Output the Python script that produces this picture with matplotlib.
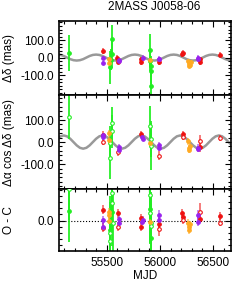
import matplotlib.pyplot as plt
import numpy as np
from matplotlib.ticker import MultipleLocator, FixedLocator

plt.rcParams['font.family'] = ['Liberation Sans', 'DejaVu Sans']
plt.rcParams['font.size'] = 8.5

# parallax model curve (one sample per ~30 d)
curve_mjd = np.linspace(55034, 56677, 55)
dec_curve = [17, 15, 9, 0, -9, -15, -17, -15, -9, 0, 9, 15,
             17, 15, 9, 0, -9, -15, -17, -15, -9, 0, 9, 15,
             17, 15, 9, 0, -9, -15, -17, -15, -9, 0, 9, 15,
             17, 15, 9, 0, -9, -15, -17, -15, -9, 0, 9, 15,
             17, 15, 9, 0, -9, -15, -17]
ra_curve = [15, 26, 30, 26, 15, 0, -15, -26, -30, -26, -15, 0,
            15, 26, 30, 26, 15, 0, -15, -26, -30, -26, -15, 0,
            15, 26, 30, 26, 15, 0, -15, -26, -30, -26, -15, 0,
            15, 26, 30, 26, 15, 0, -15, -26, -30, -26, -15, 0,
            15, 26, 30, 26, 15, 0, -15]

# green
g_dec_mjd = [55142, 55530, 55543, 55552, 55550, 55908, 55910, 55912, 55914, 55916]
g_dec = [26, -55, -12, 108, 18, 42, -19, -50, -78, -165]
g_dec_err = [105, 95, 60, 75, 80, 95, 55, 60, 70, 80]
g_ra_mjd = [55142, 55530, 55533, 55550, 55553, 55908, 55912, 55915]
g_ra = [114, -73, -5, 86, 48, 74, 14, -20]
g_ra_err = [100, 95, 80, 75, 75, 88, 80, 105]
g_ocd_mjd = [55142, 55531, 55552, 55910, 55914]
g_ocd = [31, -30, 29, 37, -57]
g_ocd_err = [99, 110, 110, 110, 110]
g_ocr_mjd = [55142, 55529, 55533, 55550, 55553, 55555, 55908, 55911, 55914, 55916]
g_ocr = [101, -65, -41, 58, 90, -8, 83, 24, -6, -17]
g_ocr_err = [100, 100, 100, 100, 100, 100, 100, 100, 100, 100]

# red
r_dec_mjd = [55465, 55600, 55603, 55818, 55822, 55993, 56212, 56216, 56375, 56379, 56566]
r_dec = [38, 0, -23, -11, -25, -25, 20, 26, -10, -25, 17]
r_dec_err = [18, 15, 15, 15, 15, 18, 15, 15, 15, 15, 12]
r_ra_mjd = [55465, 55820, 56214, 56377]
r_ra = [33, 35, 36, -23]
r_ra_err = [15, 15, 15, 20]
r2_ra_mjd = [55465, 55601, 55993, 56216, 56381, 56566]
r2_ra = [0, -47, -61, 24, 3, 18]
r2_ra_err = [15, 15, 20, 15, 28, 12]
r_ocd_mjd = [55465, 55601, 55820, 55822, 55993, 56212, 56216, 56377, 56566]
r_ocd = [35, 24, 8, -19, -11, 24, 13, 5, 15]
r_ocd_err = [15, 14, 14, 14, 18, 14, 14, 14, 12]
r_ocr_mjd = [55465, 55601, 55993, 56214, 56380, 56566]
r_ocr = [-23, -19, -28, 2, 29, -6]
r_ocr_err = [15, 14, 20, 14, 28, 12]

# purple
p_dec_mjd = [55463, 55467, 55614, 55618, 55837, 55991, 55995, 56359, 56363]
p_dec = [-2, -31, -19, -12, 0, -6, -10, -2, -8]
p_dec_err = [12, 12, 12, 12, 12, 15, 15, 15, 15]
p_ra_mjd = [55463, 55467, 55614, 55618, 55835, 55839, 55991, 55995, 56359, 56363]
p_ra = [30, 22, -23, -35, 25, 15, -15, -27, -32, -25]
p_ra_err = [12, 12, 12, 12, 12, 12, 15, 15, 15, 15]
p_oc_mjd = [55463, 55467, 55614, 55618, 55835, 55839, 55991, 55995, 56359, 56363]
p_oc = [2, -19, 5, -6, -3, 2, 18, 2, 18, -3]
p_oc_err = [12, 12, 12, 12, 12, 12, 15, 15, 15, 15]

# orange
o_dec_mjd = [55520, 55524, 55905, 56262, 56270, 56278, 56286, 56292]
o_dec = [-29, -10, -15, -22, -35, -50, -40, -28]
o_dec_err = [12, 12, 10, 12, 12, 12, 12, 12]
o_ra_mjd = [55520, 55524, 55905, 56262, 56270, 56278, 56286]
o_ra = [40, 10, -5, 3, -27, -35, -20]
o_ra_err = [15, 15, 12, 15, 15, 15, 15]
o_oc_mjd = [55520, 55522, 55524, 55905, 56262, 56270, 56278, 56286]
o_oc = [29, 18, 0, -5, -8, -19, -30, -12]
o_oc_err = [12, 12, 12, 10, 12, 12, 12, 12]

green, red, purple, orange = '#22ee22', '#ee1111', '#9922ee', '#ffaa22'

fig = plt.figure(figsize=(2.49, 2.83), dpi=100)
ax1 = fig.add_axes([0.237, 0.664, 0.691, 0.2615])
ax2 = fig.add_axes([0.237, 0.332, 0.691, 0.332], sharex=ax1)
ax3 = fig.add_axes([0.237, 0.113, 0.691, 0.219], sharex=ax1)


def pts(ax, mjd, val, err, color, filled=True, ealpha=0.55):
    ax.errorbar(mjd, val, yerr=err, fmt='none', ecolor=color, alpha=ealpha,
                elinewidth=1.4, capsize=0, zorder=2)
    ax.plot(mjd, val, 'o', ms=2.6, mfc=color if filled else 'white',
            mec=color, mew=0.8, ls='none', zorder=3)


ax1.plot(curve_mjd, dec_curve, color='#808080', lw=1.8, alpha=0.8, zorder=1)
ax2.plot(curve_mjd, ra_curve, color='#808080', lw=1.8, alpha=0.8, zorder=1)
ax3.axhline(0, color='k', ls=':', lw=0.8, zorder=1)

pts(ax1, g_dec_mjd, g_dec, g_dec_err, green, ealpha=0.9)
pts(ax1, r_dec_mjd, r_dec, r_dec_err, red)
pts(ax1, p_dec_mjd, p_dec, p_dec_err, purple)
pts(ax1, o_dec_mjd, o_dec, o_dec_err, orange)

pts(ax2, g_ra_mjd, g_ra, g_ra_err, green, filled=False, ealpha=0.9)
pts(ax2, r_ra_mjd, r_ra, r_ra_err, red)
pts(ax2, r2_ra_mjd, r2_ra, r2_ra_err, red, filled=False)
pts(ax2, p_ra_mjd, p_ra, p_ra_err, purple)
pts(ax2, o_ra_mjd, o_ra, o_ra_err, orange)

pts(ax3, g_ocd_mjd, g_ocd, g_ocd_err, green, ealpha=0.9)
pts(ax3, g_ocr_mjd, g_ocr, g_ocr_err, green, filled=False, ealpha=0.9)
pts(ax3, r_ocd_mjd, r_ocd, r_ocd_err, red)
pts(ax3, r_ocr_mjd, r_ocr, r_ocr_err, red, filled=False)
pts(ax3, p_oc_mjd, p_oc, p_oc_err, purple)
pts(ax3, o_oc_mjd, o_oc, o_oc_err, orange)

ax1.set_xlim(55050, 56670)
ax1.set_ylim(-214, 208)
ax2.set_ylim(-213, 213)
ax3.set_ylim(-98, 102)

ax1.yaxis.set_major_locator(FixedLocator([-100, 0, 100]))
ax2.yaxis.set_major_locator(FixedLocator([-100, 0, 100]))
ax3.yaxis.set_major_locator(FixedLocator([0]))
for ax in (ax1, ax2, ax3):
    ax.yaxis.set_minor_locator(MultipleLocator(20))
    ax.xaxis.set_major_locator(FixedLocator([55500, 56000, 56500]))
    ax.xaxis.set_minor_locator(MultipleLocator(100))
    ax.yaxis.set_major_formatter(plt.FormatStrFormatter('%.1f'))
    ax.tick_params(which='both', direction='in', top=True, right=True, width=0.8)
    ax.tick_params(which='major', length=4)
    ax.tick_params(which='minor', length=2)
    for s in ax.spines.values():
        s.set_linewidth(1.2)
ax1.tick_params(labelbottom=False)
ax2.tick_params(labelbottom=False)
ax3.tick_params(axis='x', pad=4.5)

fig.text(154 / 249, 1 - 7 / 283, '2MASS J0058-06', ha='center', va='center')
fig.text(145 / 249, 1 - 276 / 283, 'MJD', ha='center', va='center')
fig.text(9 / 249, 1 - 58 / 283, 'Δδ (mas)', rotation=90, ha='center', va='center')
fig.text(9 / 249, 1 - 142 / 283, 'Δα cos Δδ (mas)', rotation=90, ha='center', va='center')
fig.text(9 / 249, 1 - 220 / 283, 'O - C', rotation=90, ha='center', va='center')

fig.savefig('out.png', dpi=100)
